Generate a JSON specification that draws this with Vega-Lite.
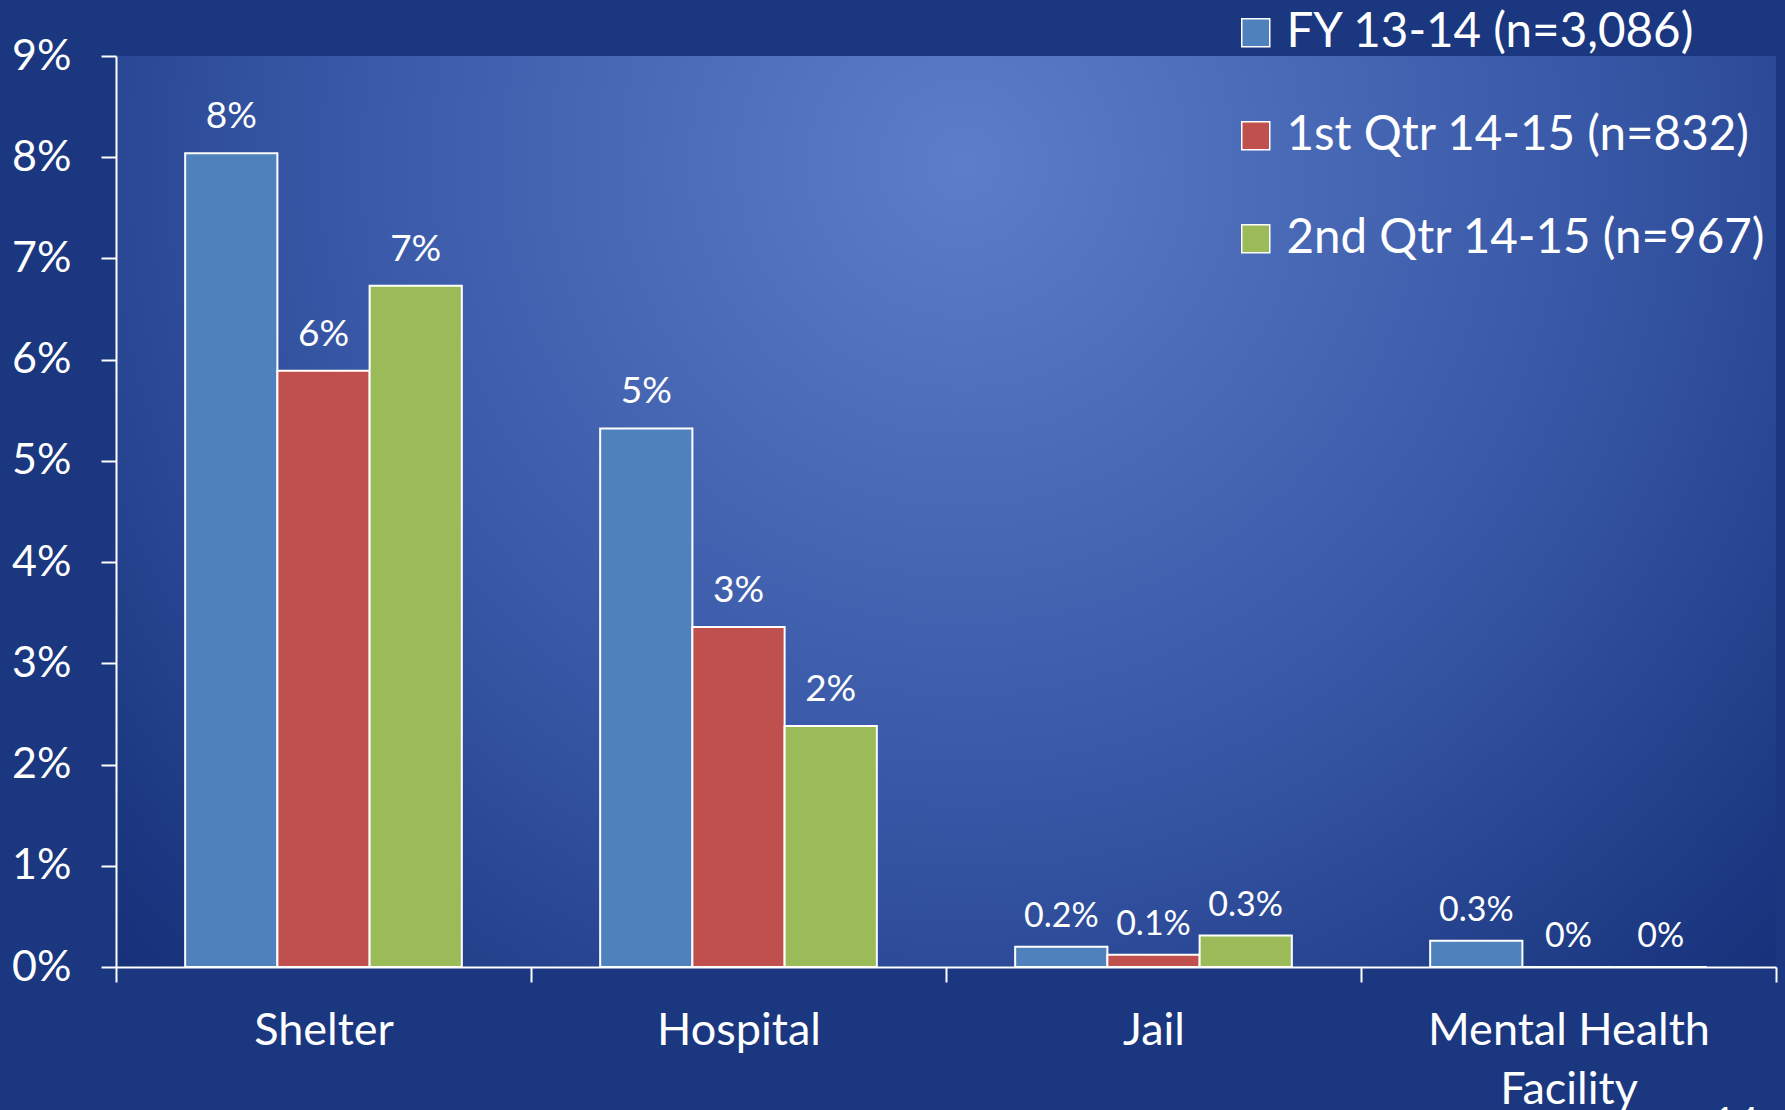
{
  "$schema": "https://vega.github.io/schema/vega-lite/v6.json",
  "width": 1660,
  "height": 911,
  "autosize": {"type": "none"},
  "padding": {"left": 116, "top": 56, "right": 9, "bottom": 143},
  "background": "#1a3780",
  "title": {
    "text": "14",
    "orient": "bottom",
    "anchor": "end",
    "fontSize": 40,
    "fontWeight": "normal",
    "color": "white",
    "offset": -8,
    "dx": -18
  },
  "config": {
    "font": "Lato",
    "view": {
      "stroke": null,
      "fill": {
        "gradient": "radial",
        "x1": 0.51, "y1": 0.29, "r1": 0,
        "x2": 0.51, "y2": 0.29, "r2": 0.8,
        "stops": [
          {"offset": 0, "color": "#5c7dc8"},
          {"offset": 0.45, "color": "#3a5aa9"},
          {"offset": 0.8, "color": "#1b3781"},
          {"offset": 1, "color": "#10296c"}
        ]
      }
    }
  },
  "data": {
    "values": [
      {"place": "Shelter", "series": "FY 13-14 (n=3,086)", "value": 0.0804, "label": "8%"},
      {"place": "Shelter", "series": "1st Qtr 14-15 (n=832)", "value": 0.0589, "label": "6%"},
      {"place": "Shelter", "series": "2nd Qtr 14-15 (n=967)", "value": 0.0673, "label": "7%"},
      {"place": "Hospital", "series": "FY 13-14 (n=3,086)", "value": 0.0532, "label": "5%"},
      {"place": "Hospital", "series": "1st Qtr 14-15 (n=832)", "value": 0.0336, "label": "3%"},
      {"place": "Hospital", "series": "2nd Qtr 14-15 (n=967)", "value": 0.0238, "label": "2%"},
      {"place": "Jail", "series": "FY 13-14 (n=3,086)", "value": 0.002, "label": "0.2%"},
      {"place": "Jail", "series": "1st Qtr 14-15 (n=832)", "value": 0.0012, "label": "0.1%"},
      {"place": "Jail", "series": "2nd Qtr 14-15 (n=967)", "value": 0.0031, "label": "0.3%"},
      {"place": "Mental Health Facility", "series": "FY 13-14 (n=3,086)", "value": 0.0026, "label": "0.3%"},
      {"place": "Mental Health Facility", "series": "1st Qtr 14-15 (n=832)", "value": 0, "label": "0%"},
      {"place": "Mental Health Facility", "series": "2nd Qtr 14-15 (n=967)", "value": 0, "label": "0%"}
    ]
  },
  "encoding": {
    "x": {
      "field": "place",
      "type": "nominal",
      "sort": ["Shelter", "Hospital", "Jail", "Mental Health Facility"],
      "scale": {"paddingInner": 0, "paddingOuter": 0},
      "axis": {
        "title": null,
        "tickBand": "extent",
        "labelAngle": 0,
        "domainColor": "white",
        "domainWidth": 2,
        "tickColor": "white",
        "tickWidth": 2,
        "tickSize": 15,
        "labelFontSize": 45,
        "labelColor": "white",
        "labelPadding": 26,
        "labelLineHeight": 59,
        "labelLimit": 600,
        "labelExpr": "datum.value == 'Mental Health Facility' ? ['Mental Health', 'Facility'] : datum.value"
      }
    },
    "xOffset": {
      "field": "series",
      "type": "nominal",
      "sort": ["FY 13-14 (n=3,086)", "1st Qtr 14-15 (n=832)", "2nd Qtr 14-15 (n=967)"],
      "scale": {"paddingInner": 0, "paddingOuter": 0.75}
    },
    "y": {
      "field": "value",
      "type": "quantitative",
      "scale": {"domain": [0, 0.09], "nice": false},
      "axis": {
        "title": null,
        "values": [0, 0.01, 0.02, 0.03, 0.04, 0.05, 0.06, 0.07, 0.08, 0.09],
        "format": ".0%",
        "grid": false,
        "domainColor": "white",
        "domainWidth": 2,
        "tickColor": "white",
        "tickWidth": 2,
        "tickSize": 15,
        "labelFontSize": 43,
        "labelColor": "white",
        "labelPadding": 30
      }
    }
  },
  "layer": [
    {
      "mark": {"type": "bar", "stroke": "white", "strokeWidth": 2},
      "encoding": {
        "color": {
          "field": "series",
          "type": "nominal",
          "scale": {
            "domain": ["FY 13-14 (n=3,086)", "1st Qtr 14-15 (n=832)", "2nd Qtr 14-15 (n=967)"],
            "range": ["#4f81bd", "#c0504d", "#9bbb59"]
          },
          "legend": {
            "orient": "none",
            "legendX": 1116,
            "legendY": -47,
            "padding": 0,
            "title": null,
            "symbolType": "square",
            "symbolSize": 784,
            "symbolStrokeColor": "white",
            "symbolStrokeWidth": 1.5,
            "symbolOpacity": 1,
            "labelFontSize": 47.5,
            "labelColor": "white",
            "labelOffset": 7,
            "labelLimit": 700,
            "rowPadding": 54
          }
        }
      }
    },
    {
      "transform": [{"filter": "datum.value >= 0.01"}],
      "mark": {"type": "text", "dy": -25, "baseline": "alphabetic", "fontSize": 37, "color": "white"},
      "encoding": {"text": {"field": "label"}}
    },
    {
      "transform": [{"filter": "datum.value < 0.01"}],
      "mark": {"type": "text", "dy": -20, "baseline": "alphabetic", "fontSize": 34, "color": "white"},
      "encoding": {"text": {"field": "label"}}
    }
  ]
}
